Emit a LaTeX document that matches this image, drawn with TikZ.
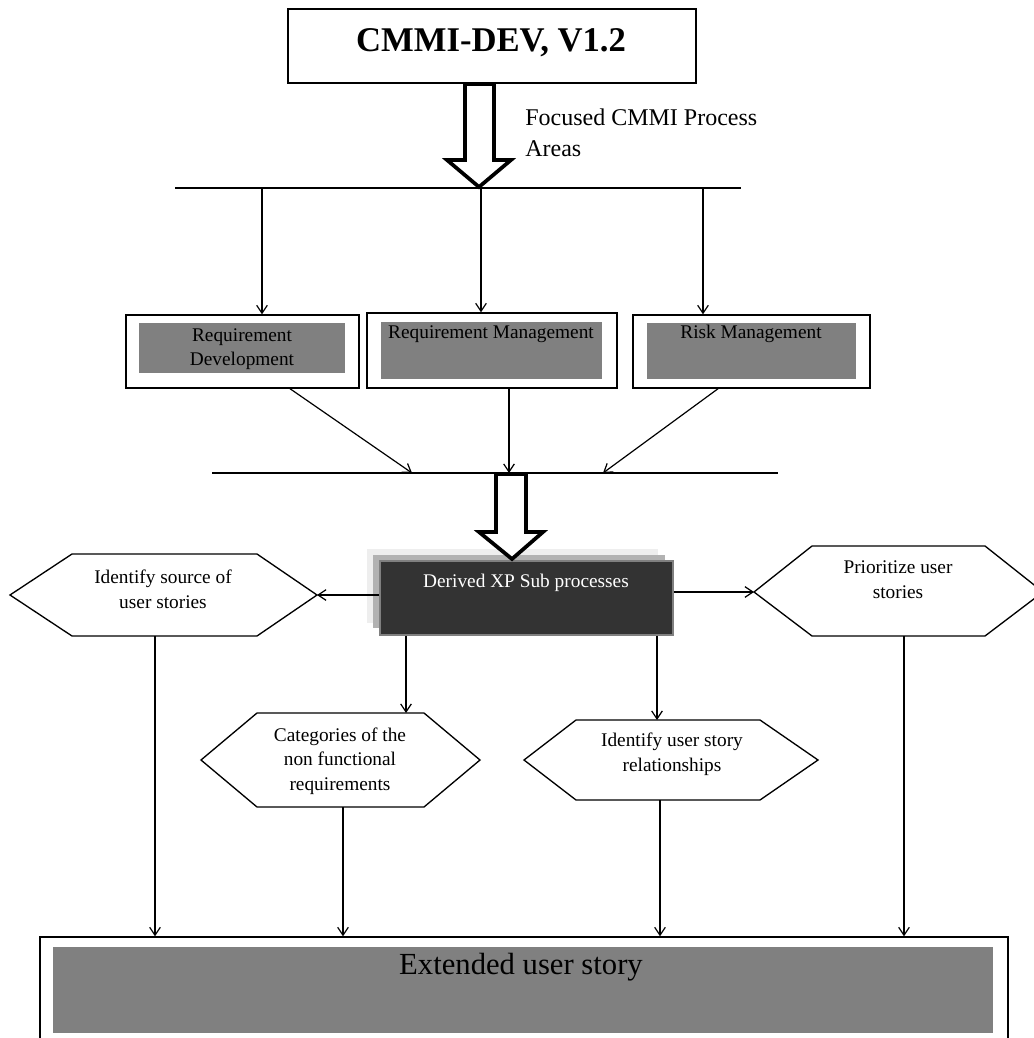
\documentclass[tikz,border=0pt]{standalone}
\usepackage{fontspec}
\setmainfont{Liberation Serif}
\usetikzlibrary{arrows.meta,fit}
\definecolor{panelgray}{HTML}{808080}
\definecolor{xpdark}{HTML}{333333}

\begin{document}
\begin{tikzpicture}[x=0.75pt,y=-0.75pt,
  >={Straight Barb[length=6pt,width=8pt]},
  box/.style={draw,line width=1pt,inner sep=0pt},
  panel/.style={fill=panelgray,inner sep=0pt},
  hex/.style={draw,line width=1pt,fill=white},
  hollow/.style={draw,line width=2.8pt,fill=white},
  link/.style={->,line width=0.9pt},
  lbl/.style={inner sep=0pt,align=center,font=\fontsize{14.5}{18.5}\selectfont}]
\useasboundingbox (0,0) rectangle (1034,1038);
\clip (0,0) rectangle (1034,1038);

\node[box,fit={(288,9) (696,83)}] (cmmi) {};
\node[inner sep=0pt,font=\fontsize{26}{30}\selectfont\bfseries] (cmmiT) at (491,43) {CMMI-DEV, V1.2};
\draw[hollow] (465,84) -- (465,160) -- (447,160) -- (479,187) -- (511,160) -- (494,160) -- (494,84) -- cycle;
\node[anchor=west,align=left,inner sep=0pt,font=\fontsize{18}{23}\selectfont] (focus) at (525,133) {Focused CMMI Process\\Areas};

\draw[line width=0.9pt] (175,188) -- (741,188);
\coordinate (t1) at (262,188);
\coordinate (t2) at (481,188);
\coordinate (t3) at (703,188);

\node[box,fit={(126,315) (359,388)}] (rd) {};
\node[panel,fit={(139,323) (345,373)}] (rdP) {};
\node[lbl] (rdT) at (242,349) {Requirement\\Development};
\node[box,fit={(367,313) (617,388)}] (rm) {};
\node[panel,fit={(381,322) (602,379)}] (rmP) {};
\node[lbl] (rmT) at (491,334) {Requirement Management};
\node[box,fit={(633,315) (870,388)}] (rk) {};
\node[panel,fit={(647,323) (856,379)}] (rkP) {};
\node[lbl] (rkT) at (751,334) {Risk Management};

\draw[link] (t1) -- (t1 |- rd.north);
\draw[link] (t2) -- (t2 |- rm.north);
\draw[link] (t3) -- (t3 |- rk.north);

\draw[line width=0.9pt] (212,473) -- (778,473);
\coordinate (rdS) at (289,388);
\coordinate (rmS) at (509,388);
\coordinate (rkS) at (719,388);
\coordinate (j1) at (412,473);
\coordinate (j2) at (509,473);
\coordinate (j3) at (603,473);
\draw[link] (rdS) -- (j1);
\draw[link] (rmS) -- (j2);
\draw[link] (rkS) -- (j3);

\fill[gray!13] (367,549) rectangle (658,623);
\fill[gray!60] (373,555) rectangle (665,628);
\node[fill=xpdark,draw=gray,line width=0.8pt,inner sep=0pt,fit={(380,561) (673,635)}] (xp) {};
\node[lbl,text=white] (xpT) at (526,583) {Derived XP Sub processes};
\draw[hollow] (496,474) -- (496,532) -- (479,532) -- (512,559) -- (543,532) -- (526,532) -- (526,474) -- cycle;

\draw[hex] (10,595) -- (72,554) -- (257,554) -- (317,595) coordinate (srcE) -- (257,636) -- (72,636) -- cycle;
\coordinate (srcS) at (155,636);
\node[lbl] (srcT) at (163,589) {Identify source of\\user stories};

\draw[hex] (201,760) -- (257,713) -- (424,713) -- (480,760) -- (424,807) -- (257,807) -- cycle;
\coordinate (nfrN) at (406,713);
\coordinate (nfrS) at (343,807);
\node[lbl] (nfrT) at (340,761) {Categories of the\\non functional\\requirements};

\draw[hex] (524,760) -- (576,720) -- (760,720) -- (818,760) -- (760,800) -- (576,800) -- cycle;
\coordinate (relN) at (657,720);
\coordinate (relS) at (660,800);
\node[lbl] (relT) at (672,754) {Identify user story\\relationships};

\draw[hex] (754,592) coordinate (priW) -- (812,546) -- (985,546) -- (1043,592) -- (985,636) -- (812,636) -- cycle;
\coordinate (priS) at (904,636);
\node[lbl] (priT) at (898,580) {Prioritize user\\stories};

\draw[link] (xp.west |- srcE) -- (srcE);
\draw[link] (xp.east |- priW) -- (priW);
\draw[link] (xp.south -| nfrN) -- (nfrN);
\draw[link] (xp.south -| relN) -- (relN);

\node[box,fill=white,fit={(40,937) (1008,1060)}] (story) {};
\node[panel,fit={(53,947) (993,1033)}] (storyP) {};
\node[inner sep=0pt,font=\fontsize{23}{27}\selectfont] (storyT) at (521,967) {Extended user story};

\draw[link] (srcS) -- (srcS |- story.north);
\draw[link] (nfrS) -- (nfrS |- story.north);
\draw[link] (relS) -- (relS |- story.north);
\draw[link] (priS) -- (priS |- story.north);

\end{tikzpicture}
\end{document}
